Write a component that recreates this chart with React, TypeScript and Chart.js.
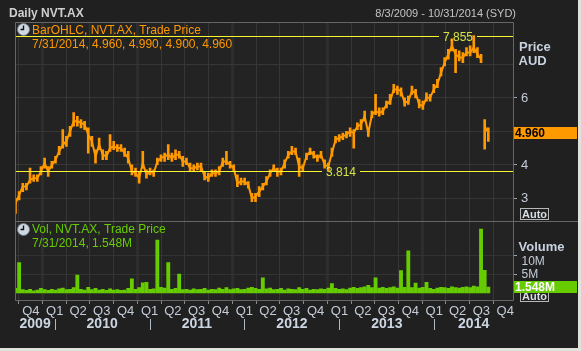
import React, { useEffect, useRef } from 'react';
import { Chart, registerables } from 'chart.js';
Chart.register(...registerables);

// ---- data ----
const startDate = '2009-08-03';
const endDate = '2014-10-31';
const stepDays = 14; // one sample every two weeks from startDate

const closes = [2.85,3.10,3.35,3.35,3.55,3.60,3.60,3.80,4.05,3.80,
 4.00,4.15,4.40,4.60,4.70,5.00,5.30,5.30,5.25,5.20,
 4.90,4.70,4.25,4.60,4.30,4.25,4.50,4.55,4.50,4.50,
 4.35,4.20,3.80,3.75,3.60,4.05,3.70,3.80,3.75,4.10,
 4.20,4.25,4.30,4.20,4.30,4.30,4.10,4.10,3.90,3.90,
 3.95,3.95,3.65,3.60,3.75,3.75,3.80,4.10,4.10,4.00,
 3.90,3.45,3.50,3.50,3.40,3.00,3.05,3.20,3.35,3.50,
 3.75,3.90,3.80,3.80,4.05,4.30,4.40,4.40,3.95,3.90,
 4.25,4.40,4.30,4.20,4.30,4.00,3.95,4.35,4.75,4.80,
 4.85,4.90,5.00,4.95,5.15,5.20,5.45,4.95,5.50,5.60,
 5.55,5.60,5.80,5.90,6.25,6.25,6.20,5.85,5.90,6.20,
 6.15,5.80,5.75,6.00,6.00,6.25,6.40,6.75,7.05,7.30,
 7.55,7.30,7.20,7.20,7.35,7.35,7.50,7.30,7.15,5.15,
 4.96];

const highs = [3.00,3.20,3.45,3.45,3.90,3.70,3.70,3.95,4.20,3.95,
 4.10,4.25,4.55,5.05,4.85,5.15,5.56,5.45,5.35,5.30,
 5.10,4.85,4.45,4.80,4.45,4.40,4.90,4.70,4.60,4.60,
 4.50,4.40,4.00,3.90,3.80,4.40,3.85,3.90,3.85,4.20,
 4.30,4.35,4.60,4.35,4.45,4.40,4.25,4.20,4.05,4.00,
 4.05,4.05,3.80,3.75,3.85,3.85,3.95,4.20,4.40,4.10,
 4.00,3.70,3.60,3.60,3.50,3.15,3.15,3.35,3.45,3.65,
 3.85,4.00,3.90,3.90,4.15,4.40,4.55,4.50,4.20,4.00,
 4.35,4.50,4.40,4.30,4.40,4.15,4.05,4.50,4.85,4.90,
 4.95,5.00,5.10,5.05,5.25,5.35,5.60,5.10,5.60,6.10,
 5.70,5.70,5.90,6.10,6.40,6.35,6.30,6.00,6.05,6.35,
 6.25,5.95,5.90,6.15,6.10,6.40,6.55,6.90,7.20,7.45,
 7.76,7.45,7.40,7.35,7.50,7.55,7.855,7.50,7.30,5.35,
 5.10];

const lows = [2.55,2.95,3.20,3.25,3.45,3.50,3.50,3.70,3.90,3.65,
 3.90,4.05,4.30,4.50,4.55,4.85,5.15,5.15,5.10,5.05,
 4.35,4.55,4.05,4.45,4.15,4.15,4.40,4.45,4.40,4.40,
 4.25,4.05,3.70,3.65,3.45,3.90,3.60,3.70,3.65,4.00,
 4.10,4.10,4.15,4.10,4.15,4.20,3.95,4.00,3.80,3.80,
 3.85,3.80,3.55,3.50,3.65,3.65,3.70,3.95,4.00,3.90,
 3.80,3.35,3.40,3.40,3.30,2.90,2.90,3.05,3.25,3.40,
 3.65,3.80,3.65,3.70,3.90,4.20,4.30,4.30,3.65,3.80,
 4.15,4.30,4.20,4.10,4.20,3.90,3.80,4.25,4.65,4.70,
 4.75,4.80,4.85,4.50,5.05,5.05,5.30,4.85,5.40,5.50,
 5.45,5.50,5.70,5.80,6.15,6.10,6.05,5.75,5.80,6.10,
 6.00,5.70,5.65,5.90,5.90,6.15,6.30,6.65,6.95,7.15,
 7.40,6.75,7.10,7.05,7.25,7.25,7.35,7.20,7.05,4.47,
 4.70];

// volume in millions
const volumes = [1.2,8.0,0.9,0.7,1.0,0.6,0.8,1.2,0.9,0.7,
 1.0,0.8,1.1,1.3,0.9,1.0,1.4,4.7,1.0,0.8,
 1.5,0.9,1.2,0.8,1.0,0.7,1.1,0.8,0.9,0.7,
 0.8,1.2,3.7,1.0,1.4,2.7,2.8,1.0,1.1,13.9,
 1.5,1.3,8.0,1.0,1.2,5.0,0.9,1.0,0.8,1.1,
 0.9,1.0,1.2,0.8,1.0,0.9,1.3,1.0,1.4,0.9,
 1.1,1.2,0.9,1.0,1.3,1.5,1.2,1.0,4.0,1.1,
 1.3,0.9,1.0,1.2,0.8,1.1,1.0,0.9,1.4,1.0,
 1.2,0.8,1.0,0.9,1.1,1.0,1.3,2.5,1.2,1.0,
 1.1,0.9,1.3,1.5,1.2,1.4,1.6,2.0,1.4,4.0,
 1.3,1.5,1.2,1.4,1.6,1.3,5.9,1.5,11.1,1.4,
 2.6,1.3,1.5,2.8,1.2,1.0,1.3,1.5,1.4,1.2,
 1.6,1.4,1.3,1.5,1.6,1.4,1.8,1.6,16.8,6.0,
 1.548];

const quarterTicks = ['2009-10-01',
 '2010-01-01','2010-04-01','2010-07-01','2010-10-01',
 '2011-01-01','2011-04-01','2011-07-01','2011-10-01',
 '2012-01-01','2012-04-01','2012-07-01','2012-10-01',
 '2013-01-01','2013-04-01','2013-07-01','2013-10-01',
 '2014-01-01','2014-04-01','2014-07-01','2014-10-01'];
const yearLabels = ['2009','2010','2011','2012','2013','2014'];

const priceGrid = [3, 4, 5, 6, 7];
const priceTickLabels = [6, 4, 3];
const volumeTicks = [5, 10];
const priceRange = [2.322, 8.263];
const volumeRange = [-1.84, 18.95];
const rangeHigh = 7.855;
const rangeLow = 3.814;

const headerTitle = 'Daily NVT.AX';
const headerRange = '8/3/2009 - 10/31/2014 (SYD)';
const priceLegend = 'BarOHLC, NVT.AX, Trade Price';
const priceLast = '7/31/2014, 4.960, 4.990, 4.900, 4.960';
const volLegend = 'Vol, NVT.AX, Trade Price';
const volLast = '7/31/2014, 1.548M';
const lastPriceText = '4.960';
const lastVolText = '1.548M';

// ---- styling ----
const ORANGE = '#ff9900';
const GREEN = '#66cc00';
const NARROW = "'Liberation Sans Narrow', 'Liberation Sans', sans-serif";
const SANS = "'Liberation Sans', Arial, sans-serif";
const AXIS_TEXT = '#c4ccd8';

const toDay = (s: string) => {
  const [y, m, d] = s.split('-').map(Number);
  const [y0, m0, d0] = startDate.split('-').map(Number);
  return (Date.UTC(y, m - 1, d) - Date.UTC(y0, m0 - 1, d0)) / 86400000;
};
const quarterDays = quarterTicks.map(toDay);
const yearStartDays = quarterTicks.filter(q => q.slice(5, 7) === '01').map(toDay);
const quarterLabel = (v: number) => {
  const i = quarterDays.indexOf(v);
  if (i < 0) return '';
  return 'Q' + ((Number(quarterTicks[i].slice(5, 7)) - 1) / 3 + 1);
};

const decor = {
  id: 'decor',
  beforeDraw(chart: any) {
    const { ctx, chartArea: a } = chart;
    ctx.save();
    ctx.fillStyle = '#202020';
    ctx.fillRect(0, 0, chart.width, chart.height);
    ctx.fillStyle = '#232323';
    ctx.fillRect(a.left, a.top, a.right - a.left, a.bottom - a.top);
    ctx.restore();
  },
  afterDatasetsDraw(chart: any) {
    const { ctx, chartArea: a } = chart;
    const yS = chart.scales.y;
    ctx.save();
    ctx.font = `12px ${SANS}`;
    const rangeLine = (v: number, cx: number) => {
      const t = v.toFixed(3);
      const w = ctx.measureText(t).width;
      const y = Math.round(yS.getPixelForValue(v)) + 0.5;
      ctx.strokeStyle = '#f8f430';
      ctx.lineWidth = 1;
      ctx.beginPath();
      ctx.moveTo(a.left, y); ctx.lineTo(cx - w / 2 - 4, y);
      ctx.moveTo(cx + w / 2 + 4, y); ctx.lineTo(a.right, y);
      ctx.stroke();
      ctx.fillStyle = '#d4e444';
      ctx.textAlign = 'center';
      ctx.textBaseline = 'middle';
      ctx.fillText(t, cx, y + 1);
    };
    rangeLine(rangeHigh, 458);
    rangeLine(rangeLow, 341);
    ctx.restore();
  },
  afterDraw(chart: any) {
    const { ctx, chartArea: a } = chart;
    const yS = chart.scales.y;
    const vS = chart.scales.yv;
    const xS = chart.scales.x;
    ctx.save();
    // frame
    ctx.strokeStyle = '#666';
    ctx.lineWidth = 1;
    const L = Math.round(a.left) - 0.5, R = Math.round(a.right) + 0.5;
    const T = Math.round(a.top) + 0.5, B = Math.round(a.bottom) + 0.5;
    const S = Math.round(vS.top) + 0.5;
    ctx.beginPath();
    ctx.moveTo(L, T); ctx.lineTo(R, T); ctx.lineTo(R, B); ctx.lineTo(L, B); ctx.closePath();
    ctx.moveTo(L, S); ctx.lineTo(chart.width, S);
    ctx.stroke();

    const text = (s: string, x: number, y: number, font: string, color: string, align = 'left', base = 'alphabetic') => {
      ctx.font = font; ctx.fillStyle = color; ctx.textAlign = align; ctx.textBaseline = base;
      ctx.fillText(s, x, y);
    };
    // header
    text(headerTitle, 9, 17, `bold 12px ${NARROW}`, '#cfcfcf');
    text(headerRange, 516, 17, `11px ${NARROW}`, '#c4c4c4', 'right');

    // clocks
    const clock = (cx: number, cy: number) => {
      ctx.beginPath(); ctx.arc(cx, cy, 6, 0, Math.PI * 2);
      ctx.fillStyle = '#cfd8e2'; ctx.fill();
      ctx.strokeStyle = '#6d7d8d'; ctx.lineWidth = 1; ctx.stroke();
      ctx.beginPath(); ctx.moveTo(cx, cy - 4); ctx.lineTo(cx, cy); ctx.lineTo(cx - 3, cy);
      ctx.strokeStyle = '#111'; ctx.lineWidth = 1.4; ctx.stroke();
    };
    clock(23.5, 29.5);
    clock(23.5, 229.5);
    text(priceLegend, 32, 34, `12px ${NARROW}`, ORANGE);
    text(priceLast, 32, 48, `12px ${NARROW}`, ORANGE);
    text(volLegend, 32, 233, `12px ${NARROW}`, GREEN);
    text(volLast, 32, 247, `12px ${NARROW}`, GREEN);

    // right axis titles and labels
    text('Price', 519, 50.5, `bold 13px ${NARROW}`, '#c8d2de');
    text('AUD', 518.5, 65, `bold 13px ${NARROW}`, '#c8d2de');
    text('Volume', 518.5, 250.5, `bold 13px ${NARROW}`, '#c8d2de');
    priceTickLabels.forEach(v => text(String(v), 521, yS.getPixelForValue(v) + 0.5, `13px ${NARROW}`, AXIS_TEXT, 'left', 'middle'));
    text(volumeTicks[1] + 'M', 521.5, vS.getPixelForValue(volumeTicks[1]) + 6.5, `12px ${NARROW}`, AXIS_TEXT, 'left', 'middle');
    text(volumeTicks[0] + 'M', 521.5, vS.getPixelForValue(volumeTicks[0]) + 1, `12px ${NARROW}`, AXIS_TEXT, 'left', 'middle');

    // auto boxes
    const auto = (y: number) => {
      ctx.fillStyle = '#222'; ctx.fillRect(520.5, y, 28, 11);
      ctx.strokeStyle = '#b8b8b8'; ctx.lineWidth = 1; ctx.strokeRect(520.5, y, 28, 11);
      text('Auto', 534.5, y + 6, `bold 11px ${SANS}`, '#d8dee6', 'center', 'middle');
    };
    auto(208.5);
    auto(290.5);

    // last value boxes
    const lp = yS.getPixelForValue(closes[closes.length - 1]);
    ctx.fillStyle = ORANGE; ctx.fillRect(514, Math.round(lp) - 6, 63, 12);
    text(lastPriceText, 515, Math.round(lp) + 0.5, `bold 12px ${SANS}`, '#000', 'left', 'middle');
    const lv = vS.getPixelForValue(volumes[volumes.length - 1]);
    ctx.fillStyle = GREEN; ctx.fillRect(514, Math.round(lv) - 6, 63, 12);
    text(lastVolText, 515, Math.round(lv) + 0.5, `bold 12px ${SANS}`, '#fff', 'left', 'middle');

    // years
    const bounds = [xS.min, ...yearStartDays, xS.max].map((d: number) => xS.getPixelForValue(d));
    ctx.strokeStyle = '#b0b8c4'; ctx.lineWidth = 1;
    yearStartDays.forEach(d => {
      const x = Math.round(xS.getPixelForValue(d)) + 0.5;
      ctx.beginPath(); ctx.moveTo(x, 319); ctx.lineTo(x, 330); ctx.stroke();
    });
    yearLabels.forEach((y, i) => {
      text(y, (bounds[i] + bounds[i + 1]) / 2, 324.5, `bold 14px ${NARROW}`, '#ccd6e2', 'center', 'middle');
    });
    ctx.restore();
  },
};

export default function App() {
  const ref = useRef<HTMLCanvasElement>(null);
  useEffect(() => {
    document.body.style.margin = '0';
    const pricePts = closes.map((c, i) => ({ x: i * stepDays, y: c }));
    const rangePts = closes.map((_, i) => ({ x: i * stepDays, y: [lows[i], highs[i]] }));
    const volPts = volumes.map((v, i) => ({ x: i * stepDays, y: v }));
    const chart = new Chart(ref.current as HTMLCanvasElement, {
      type: 'line',
      data: {
        datasets: [
          {
            type: 'line', data: pricePts, yAxisID: 'y', borderColor: ORANGE, borderWidth: 2,
            pointRadius: 0, tension: 0,
            segment: { borderColor: (c: any) => Math.abs(c.p1.parsed.y - c.p0.parsed.y) > 1.2 ? 'rgba(0,0,0,0)' : ORANGE },
          } as any,
          {
            type: 'bar', data: rangePts, yAxisID: 'y', backgroundColor: ORANGE, barThickness: 2, grouped: false,
          } as any,
          {
            type: 'bar', data: volPts, yAxisID: 'yv', backgroundColor: GREEN, barThickness: 3.2, grouped: false,
          } as any,
        ],
      },
      options: {
        animation: false,
        responsive: false,
        events: [],
        layout: { padding: { left: 15.5, top: 22, right: 0, bottom: 0 } },
        plugins: { legend: { display: false }, tooltip: { enabled: false }, title: { display: false } },
        scales: {
          x: {
            type: 'linear', min: 0, max: toDay(endDate), offset: false,
            afterBuildTicks: (s: any) => { s.ticks = quarterDays.map(v => ({ value: v })); },
            afterFit: (s: any) => { s.height = 48; },
            ticks: {
              callback: (v: any) => quarterLabel(Number(v)), autoSkip: false, maxRotation: 0,
              color: AXIS_TEXT, font: { family: NARROW, size: 13 }, padding: 0,
            },
            grid: {
              color: (c: any) => yearStartDays.includes(c.tick?.value) ? '#2d2d2d' : '#363636',
              lineWidth: (c: any) => yearStartDays.includes(c.tick?.value) ? 3 : 1,
              tickColor: '#8a8a8a', tickWidth: 1, tickLength: 4,
            },
            border: { display: false },
          },
          y: {
            type: 'linear', position: 'right', stack: 'panes', stackWeight: 199,
            min: priceRange[0], max: priceRange[1],
            afterBuildTicks: (s: any) => { s.ticks = priceGrid.map(v => ({ value: v })); },
            afterFit: (s: any) => { s.width = 65; },
            ticks: { display: false },
            grid: {
              color: '#363636', tickLength: 4, tickWidth: 1,
              tickColor: (c: any) => priceTickLabels.includes(c.tick?.value) ? '#9aa4ae' : 'rgba(0,0,0,0)',
            },
            border: { display: false },
          },
          yv: {
            type: 'linear', position: 'right', stack: 'panes', stackWeight: 79,
            min: volumeRange[0], max: volumeRange[1],
            afterBuildTicks: (s: any) => { s.ticks = volumeTicks.map(v => ({ value: v })); },
            afterFit: (s: any) => { s.width = 65; },
            ticks: { display: false },
            grid: { color: '#333333', tickLength: 4, tickWidth: 1, tickColor: '#9aa4ae' },
            border: { display: false },
          },
        },
      } as any,
      plugins: [decor],
    });
    return () => chart.destroy();
  }, []);
  return (
    <div style={{ width: 581, height: 351, background: '#e2e2dc', position: 'relative', overflow: 'hidden' }}>
      <canvas ref={ref} width={578} height={348} style={{ display: 'block', width: 578, height: 348 }} />
    </div>
  );
}
